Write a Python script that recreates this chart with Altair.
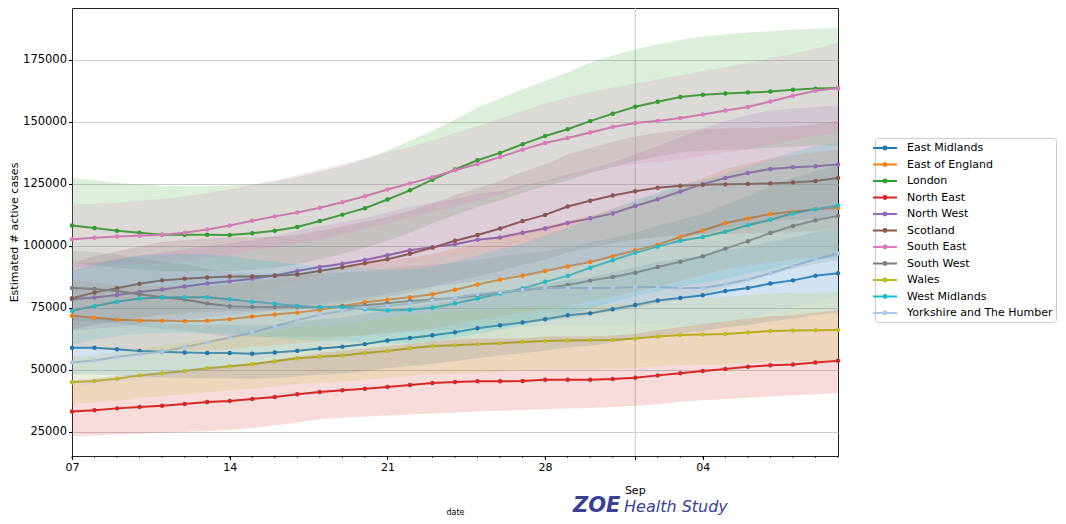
import altair as alt
import pandas as pd

regions = ["East Midlands", "East of England", "London", "North East", "North West",
           "Scotland", "South East", "South West", "Wales", "West Midlands",
           "Yorkshire and The Humber"]
colors = ["#1f77b4", "#ff7f0e", "#2ca02c", "#d62728", "#9467bd", "#8c564b",
          "#e377c2", "#7f7f7f", "#bcbd22", "#17becf", "#aec7e8"]

dates = pd.date_range("2020-08-07", "2020-09-10", freq="D").strftime("%Y-%m-%d").tolist()

# values in thousands of estimated active cases
em = [58.9, 58.9, 58.3, 57.6, 57.3, 57.0, 56.8, 56.8, 56.5, 57.0, 57.7, 58.6,
      59.3, 60.4, 61.9, 62.9, 64.0, 65.2, 66.8, 68.0, 69.1, 70.4, 72.0,
      72.8, 74.5, 76.2, 78.0, 79.0, 80.1, 81.8, 83.0, 84.8, 86.1, 88.0, 89.0]
em_lo = [48.3, 48.3, 47.8, 47.2, 47.0, 46.7, 46.6, 46.6, 46.3, 46.7, 47.3, 48.1,
         48.6, 49.5, 50.8, 51.6, 52.5, 53.5, 54.8, 55.8, 56.7, 57.7, 59.0,
         59.7, 61.1, 62.5, 64.0, 64.8, 65.7, 67.1, 68.1, 69.5, 70.6, 72.2, 73.0]
em_hi = [70.7, 70.7, 70.0, 69.1, 68.8, 68.4, 68.2, 68.2, 67.8, 68.4, 69.2, 70.3,
         71.2, 72.5, 74.3, 75.5, 76.8, 78.2, 80.2, 81.6, 82.9, 84.5, 86.4,
         87.4, 89.4, 91.4, 93.6, 94.8, 96.1, 98.2, 99.6, 101.8, 103.3, 105.6, 106.8]

ee = [71.8, 71.0, 70.2, 69.9, 69.8, 69.6, 69.8, 70.4, 71.5, 72.3, 73.1, 74.3,
      75.8, 77.3, 78.3, 79.3, 80.5, 82.3, 84.4, 86.4, 88.0, 89.9, 91.7,
      93.5, 95.8, 98.2, 100.5, 103.6, 106.2, 109.2, 111.0, 112.9, 113.8, 114.8, 115.4]
ee_lo = [59.6, 58.9, 58.3, 58.0, 57.9, 57.8, 57.9, 58.4, 59.3, 60.0, 60.7, 61.7,
         62.9, 64.2, 65.0, 65.8, 66.8, 68.3, 70.1, 71.7, 73.0, 74.6, 76.1,
         77.6, 79.5, 81.5, 83.4, 86.0, 88.1, 90.6, 92.1, 93.7, 94.5, 95.3, 95.8]
ee_hi = [86.2, 85.2, 84.2, 83.9, 83.8, 83.5, 83.8, 84.5, 85.8, 86.8, 87.7, 89.2,
         91.0, 92.8, 94.0, 95.2, 96.6, 98.8, 101.3, 103.7, 105.6, 107.9, 110.0,
         112.2, 115.0, 117.8, 120.6, 124.3, 127.4, 131.0, 133.2, 135.5, 136.6, 137.8, 138.5]

lo_ = [108.2, 107.2, 106.1, 105.3, 104.5, 104.5, 104.5, 104.4, 105.1, 106.1, 107.6, 110.0,
       112.6, 115.2, 118.7, 122.4, 126.7, 130.8, 134.5, 137.5, 141.0, 144.3, 147.0,
       150.3, 153.3, 156.1, 158.1, 160.0, 160.9, 161.4, 161.8, 162.2, 162.9, 163.4, 163.6]
lo_lo = [93.0, 92.2, 91.2, 90.6, 89.9, 89.9, 89.9, 89.8, 90.4, 91.2, 92.5, 94.6,
         96.8, 99.1, 102.1, 105.3, 109.0, 112.5, 115.7, 118.3, 121.3, 124.1, 126.4,
         129.3, 131.8, 134.2, 136.0, 137.6, 138.4, 138.8, 139.1, 139.5, 140.1, 140.5, 140.7]
lo_hi = [127.3, 126.5, 125.5, 124.7, 124.2, 124.0, 124.0, 124.3, 124.8, 126.0, 127.8, 130.0,
         132.2, 135.0, 138.5, 142.4, 146.5, 151.0, 155.8, 159.5, 163.0, 166.5, 170.0,
         173.9, 176.8, 179.3, 181.3, 183.0, 184.3, 185.3, 186.0, 186.6, 187.1, 187.5, 187.8]

ne = [33.2, 33.7, 34.5, 35.1, 35.6, 36.3, 37.1, 37.5, 38.3, 39.1, 40.2, 41.1,
      41.8, 42.4, 43.1, 43.9, 44.7, 45.1, 45.4, 45.4, 45.5, 46.0, 46.0,
      46.0, 46.3, 46.8, 47.8, 48.7, 49.6, 50.4, 51.3, 51.9, 52.2, 53.0, 53.7]
ne_lo = [23.4, 23.7, 24.0, 24.3, 24.7, 25.0, 25.4, 25.8, 26.6, 27.6, 28.8, 30.1,
         30.7, 31.2, 31.6, 32.0, 32.4, 32.8, 33.2, 33.5, 33.8, 34.1, 34.4,
         34.6, 35.1, 35.6, 36.2, 37.2, 37.8, 38.3, 38.8, 39.3, 39.8, 40.2, 40.6]
ne_hi = [45.8, 46.5, 47.6, 48.4, 49.1, 50.1, 51.2, 51.8, 52.9, 54.0, 55.5, 56.7,
         57.7, 58.5, 59.5, 60.6, 61.7, 62.2, 62.7, 62.7, 62.8, 63.5, 63.5,
         63.5, 63.9, 64.6, 66.0, 67.2, 68.4, 69.6, 70.8, 71.6, 72.0, 73.1, 74.1]

nw = [78.5, 79.2, 80.2, 81.4, 82.4, 83.6, 84.8, 85.7, 86.8, 88.1, 89.9, 91.5,
      92.8, 94.3, 96.2, 98.2, 99.5, 100.7, 102.5, 103.4, 105.3, 107.0, 109.2,
      111.1, 113.1, 116.1, 118.8, 121.9, 124.9, 127.4, 129.4, 131.0, 131.7, 132.1, 132.8]
nw_lo = [65.9, 66.5, 67.4, 68.4, 69.2, 70.2, 71.2, 72.0, 72.9, 74.0, 75.5, 76.9,
         78.0, 79.2, 80.8, 82.5, 83.6, 84.6, 86.1, 86.9, 88.5, 89.9, 91.7,
         93.3, 95.0, 97.5, 99.8, 102.4, 104.9, 107.0, 108.7, 110.0, 110.6, 111.0, 111.6]
nw_hi = [92.6, 93.5, 94.6, 96.1, 97.2, 98.6, 100.1, 101.1, 102.4, 104.0, 106.1, 108.0,
         109.5, 111.3, 113.5, 115.9, 117.4, 118.8, 121.0, 122.0, 124.3, 126.3, 128.9,
         131.1, 133.5, 137.0, 140.2, 143.8, 147.4, 150.3, 152.7, 154.6, 155.4, 155.9, 156.7]

sc = [78.9, 81.2, 82.9, 84.7, 86.1, 86.8, 87.3, 87.7, 87.7, 88.0, 88.5, 89.9,
      91.4, 93.0, 94.6, 96.8, 99.3, 102.1, 104.4, 107.0, 110.0, 112.5, 115.9,
      118.2, 120.3, 122.0, 123.4, 124.2, 124.6, 124.8, 125.0, 125.2, 125.6, 126.2, 127.4]
sc_lo = [66.3, 68.2, 69.6, 71.1, 72.3, 72.9, 73.3, 73.7, 73.7, 73.9, 74.3, 75.5,
         76.8, 78.1, 79.5, 81.3, 83.4, 85.8, 87.7, 89.9, 92.4, 94.5, 97.4,
         99.3, 101.1, 102.5, 103.7, 104.3, 104.7, 104.8, 105.0, 105.2, 105.5, 106.0, 107.0]
sc_hi = [93.1, 95.8, 97.8, 99.9, 101.6, 102.4, 103.0, 103.5, 103.5, 103.8, 104.4, 106.1,
         107.9, 109.7, 111.6, 114.2, 117.2, 120.5, 123.2, 126.3, 129.8, 132.8, 136.8,
         139.5, 142.0, 144.0, 145.6, 146.6, 147.0, 147.3, 147.5, 147.7, 148.2, 148.9, 150.3]

se = [102.7, 103.3, 103.8, 104.1, 104.5, 105.3, 106.6, 108.2, 110.1, 111.9, 113.5, 115.4,
      117.6, 120.0, 122.7, 125.2, 127.7, 130.5, 133.0, 135.8, 138.8, 141.5, 143.5,
      145.7, 147.9, 149.5, 150.4, 151.6, 153.0, 154.6, 156.0, 158.2, 160.5, 162.5, 163.6]
se_lo = [91.4, 91.9, 92.4, 92.6, 93.0, 93.7, 94.9, 96.3, 98.0, 99.6, 101.0, 102.7,
         104.7, 106.8, 109.2, 111.4, 113.7, 116.1, 118.4, 120.9, 123.5, 125.9, 127.7,
         129.7, 131.6, 133.1, 133.9, 134.9, 136.2, 137.6, 138.8, 140.8, 142.8, 144.6, 145.6]
se_hi = [116.7, 117.0, 117.5, 118.2, 119.0, 120.0, 121.3, 122.8, 124.5, 126.5, 128.6, 130.8,
         133.0, 135.3, 137.6, 140.0, 142.6, 145.4, 148.3, 151.3, 154.3, 157.3, 159.9,
         162.0, 163.8, 165.5, 167.2, 168.8, 170.5, 172.1, 173.8, 175.6, 177.5, 179.6, 181.9]

sw = [83.0, 82.6, 81.8, 80.5, 79.3, 78.4, 76.8, 75.7, 75.4, 75.4, 75.5, 75.3,
      75.7, 76.1, 76.9, 77.8, 78.4, 79.0, 80.0, 81.2, 82.1, 83.0, 84.2,
      86.0, 87.5, 89.2, 91.5, 93.6, 95.8, 98.9, 101.9, 105.2, 108.0, 110.3, 112.1]
sw_lo = [69.7, 69.4, 68.7, 67.6, 66.6, 65.9, 64.5, 63.6, 63.3, 63.3, 63.4, 63.3,
         63.6, 63.9, 64.6, 65.4, 65.9, 66.4, 67.2, 68.2, 69.0, 69.7, 70.7,
         72.2, 73.5, 74.9, 76.9, 78.6, 80.5, 83.1, 85.6, 88.4, 90.7, 92.7, 94.2]
sw_hi = [97.9, 97.5, 96.5, 95.0, 93.6, 92.5, 90.6, 89.3, 89.0, 89.0, 89.1, 88.9,
         89.3, 89.8, 90.7, 91.8, 92.5, 93.2, 94.4, 95.8, 96.9, 97.9, 99.4,
         101.5, 103.3, 105.3, 108.0, 110.4, 113.0, 116.7, 120.2, 124.1, 127.4, 130.2, 132.3]

wa = [45.0, 45.5, 46.4, 47.8, 48.7, 49.6, 50.7, 51.5, 52.3, 53.5, 54.7, 55.3,
      55.8, 56.8, 57.6, 58.7, 59.6, 59.9, 60.4, 60.8, 61.3, 61.7, 61.9,
      62.0, 62.1, 62.7, 63.5, 64.1, 64.3, 64.5, 65.1, 65.7, 65.9, 66.0, 66.1]
wa_lo = [36.5, 36.9, 37.6, 38.7, 39.4, 40.2, 41.1, 41.7, 42.4, 43.3, 44.3, 44.8,
         45.2, 46.0, 46.7, 47.5, 48.3, 48.5, 48.9, 49.2, 49.7, 50.0, 50.1,
         50.2, 50.3, 50.8, 51.4, 51.9, 52.1, 52.2, 52.7, 53.2, 53.4, 53.5, 53.5]
wa_hi = [55.4, 56.0, 57.1, 58.8, 59.9, 61.0, 62.4, 63.3, 64.3, 65.8, 67.3, 68.0,
         68.6, 69.9, 70.8, 72.2, 73.3, 73.7, 74.3, 74.8, 75.4, 75.9, 76.1,
         76.3, 76.4, 77.1, 78.1, 78.8, 79.1, 79.3, 80.1, 80.8, 81.1, 81.2, 81.3]

wm = [73.8, 75.8, 77.5, 78.8, 79.2, 79.3, 79.3, 78.5, 77.5, 76.7, 75.8, 75.3,
      75.3, 74.5, 74.0, 74.3, 75.1, 76.8, 78.8, 80.8, 82.8, 85.5, 87.9,
      91.2, 94.2, 97.2, 99.7, 102.1, 103.6, 105.7, 108.3, 110.5, 113.2, 114.8, 116.3]
wm_lo = [60.5, 62.2, 63.6, 64.6, 64.9, 65.0, 65.0, 64.4, 63.6, 62.9, 62.2, 61.7,
         61.7, 61.1, 60.7, 60.9, 61.6, 63.0, 64.6, 66.3, 67.9, 70.1, 72.1,
         74.8, 77.2, 79.7, 81.8, 83.7, 85.0, 86.7, 88.8, 90.6, 92.8, 94.1, 95.4]
wm_hi = [90.0, 92.5, 94.6, 96.1, 96.6, 96.7, 96.7, 95.8, 94.6, 93.6, 92.5, 91.9,
         91.9, 90.9, 90.3, 90.6, 91.6, 93.7, 96.1, 98.6, 101.0, 104.3, 107.2,
         111.3, 114.9, 118.6, 121.6, 124.6, 126.4, 129.0, 132.1, 134.8, 138.1, 140.1, 141.9]

yo = [53.0, 53.8, 55.2, 56.4, 57.3, 59.2, 61.1, 63.1, 65.1, 67.6, 70.0, 72.3,
      73.8, 75.1, 75.8, 76.8, 78.0, 79.2, 80.6, 81.4, 82.2, 83.0, 83.0,
      83.0, 83.0, 83.4, 83.4, 83.0, 83.0, 84.5, 86.5, 89.0, 91.9, 94.6, 96.9]
yo_lo = [43.5, 44.1, 45.3, 46.2, 47.0, 48.5, 50.1, 51.7, 53.4, 55.4, 57.4, 59.3,
         60.5, 61.6, 62.2, 63.0, 64.0, 64.9, 66.1, 66.7, 67.4, 68.1, 68.1,
         68.1, 68.1, 68.4, 68.4, 68.1, 68.1, 69.3, 70.9, 73.0, 75.4, 77.6, 79.5]
yo_hi = [64.7, 65.6, 67.3, 68.8, 69.9, 72.2, 74.5, 77.0, 79.4, 82.5, 85.4, 88.2,
         90.0, 91.6, 92.5, 93.7, 95.2, 96.6, 98.3, 99.3, 100.3, 101.3, 101.3,
         101.3, 101.3, 101.7, 101.7, 101.3, 101.3, 103.1, 105.5, 108.6, 112.1, 115.4, 118.2]

values = [em, ee, lo_, ne, nw, sc, se, sw, wa, wm, yo]
lowers = [em_lo, ee_lo, lo_lo, ne_lo, nw_lo, sc_lo, se_lo, sw_lo, wa_lo, wm_lo, yo_lo]
uppers = [em_hi, ee_hi, lo_hi, ne_hi, nw_hi, sc_hi, se_hi, sw_hi, wa_hi, wm_hi, yo_hi]

y_ticks = [25000, 50000, 75000, 100000, 125000, 150000, 175000]
x_tick_dates = ["2020-08-07", "2020-08-14", "2020-08-21", "2020-08-28", "2020-09-01", "2020-09-04"]
month_label = [{"date": "2020-09-01", "label": "Sep"}]

rows = []
for r, v, lo, hi in zip(regions, values, lowers, uppers):
    for d, a, b, c in zip(dates, v, lo, hi):
        rows.append({"region": r, "date": d, "value": a * 1000, "lower": b * 1000, "upper": c * 1000})
df = pd.DataFrame(rows)


def ms(d):
    return int(pd.Timestamp(d, tz="UTC").timestamp() * 1000)


W, H = 766, 448
FONT = "DejaVu Sans"

xscale = alt.Scale(type="utc", domain=[ms(dates[0]), ms(dates[-1])])
yscale = alt.Scale(domain=[15300, 195900], nice=False, zero=False)

xaxis = alt.Axis(values=[ms(d) for d in x_tick_dates],
                 labelExpr="utcFormat(datum.value, '%d') == '01' ? '' : utcFormat(datum.value, '%d')",
                 grid=False, tickSize=3.5, labelFlush=False, labelOverlap=False,
                 labelFontSize=11, labelPadding=2, title="date", titleFontSize=8,
                 titleFontWeight="normal", titlePadding=36)
yaxis = alt.Axis(values=y_ticks, format="d", grid=True, gridColor="#cccccc", gridWidth=1,
                 tickSize=3.5, labelFontSize=11.5, labelPadding=2, labelOverlap=False,
                 title="Estimated # active cases", titleFontSize=11, titleFontWeight="normal",
                 titlePadding=3)

X = alt.X("date:T", scale=xscale, axis=xaxis)
color_scale = alt.Scale(domain=regions, range=colors)

legend = alt.Legend(
    title=None, orient="none", legendX=803, legendY=130,
    symbolType="M-2,0L2,0M-0.24,0A0.24,0.24,0,1,0,0.24,0A0.24,0.24,0,1,0,-0.24,0",
    symbolSize=144, symbolStrokeWidth=2, symbolOpacity=1,
    labelFont=FONT, labelFontSize=11, labelColor="black", labelOffset=15,
    rowPadding=3.5, padding=3, strokeColor="#cccccc", fillColor="white",
    cornerRadius=3, labelLimit=300)

base = alt.Chart(df)

sep_grid = alt.Chart(pd.DataFrame(month_label)).mark_rule(color="#c8c8c8", strokeWidth=1).encode(
    x=X)

lines = base.mark_line(strokeWidth=2).encode(
    x=X,
    y=alt.Y("value:Q", scale=yscale, axis=yaxis),
    color=alt.Color("region:N", scale=color_scale, legend=legend),
)

bands = base.mark_area(opacity=0.17).encode(
    x=X,
    y=alt.Y("lower:Q", scale=yscale, axis=yaxis),
    y2="upper:Q",
    color=alt.Color("region:N", scale=color_scale, legend=legend),
)

points = base.mark_point(filled=True, size=20, opacity=1).encode(
    x=X,
    y=alt.Y("value:Q", scale=yscale, axis=yaxis),
    color=alt.Color("region:N", scale=color_scale, legend=legend),
)

minor = alt.Chart(pd.DataFrame({"date": dates})).mark_rule(color="black", strokeWidth=0.7).encode(
    x=X, y=alt.value(H), y2=alt.value(H + 2))

sep_text = alt.Chart(pd.DataFrame(month_label)).mark_text(
    font=FONT, fontSize=11, color="black", baseline="middle", align="center").encode(
    x=X, y=alt.value(483), text="label:N")

logo1 = alt.Chart(pd.DataFrame({"t": ["ZOE"]})).mark_text(
    font=FONT, fontSize=21, fontWeight="bold", fontStyle="italic", color="#3a3f98",
    align="left", baseline="alphabetic").encode(text="t:N", x=alt.value(501), y=alt.value(504))
logo2 = alt.Chart(pd.DataFrame({"t": ["Health Study"]})).mark_text(
    font=FONT, fontSize=16, fontStyle="italic", color="#3a3f98",
    align="left", baseline="alphabetic").encode(text="t:N", x=alt.value(552), y=alt.value(504))

chart = alt.layer(sep_grid, lines, bands, points, minor, sep_text, logo1, logo2).properties(
    width=W, height=H,
    autosize=alt.AutoSizeParams(type="none"),
    padding={"left": 64, "top": 0, "right": 220, "bottom": 60},
).configure_axis(
    labelFont=FONT, titleFont=FONT, labelColor="black", titleColor="black",
    tickColor="black", domain=False,
).configure_view(stroke="#222222", strokeWidth=1)

chart.save("out.html", embed_options={"renderer": "svg", "actions": False})
